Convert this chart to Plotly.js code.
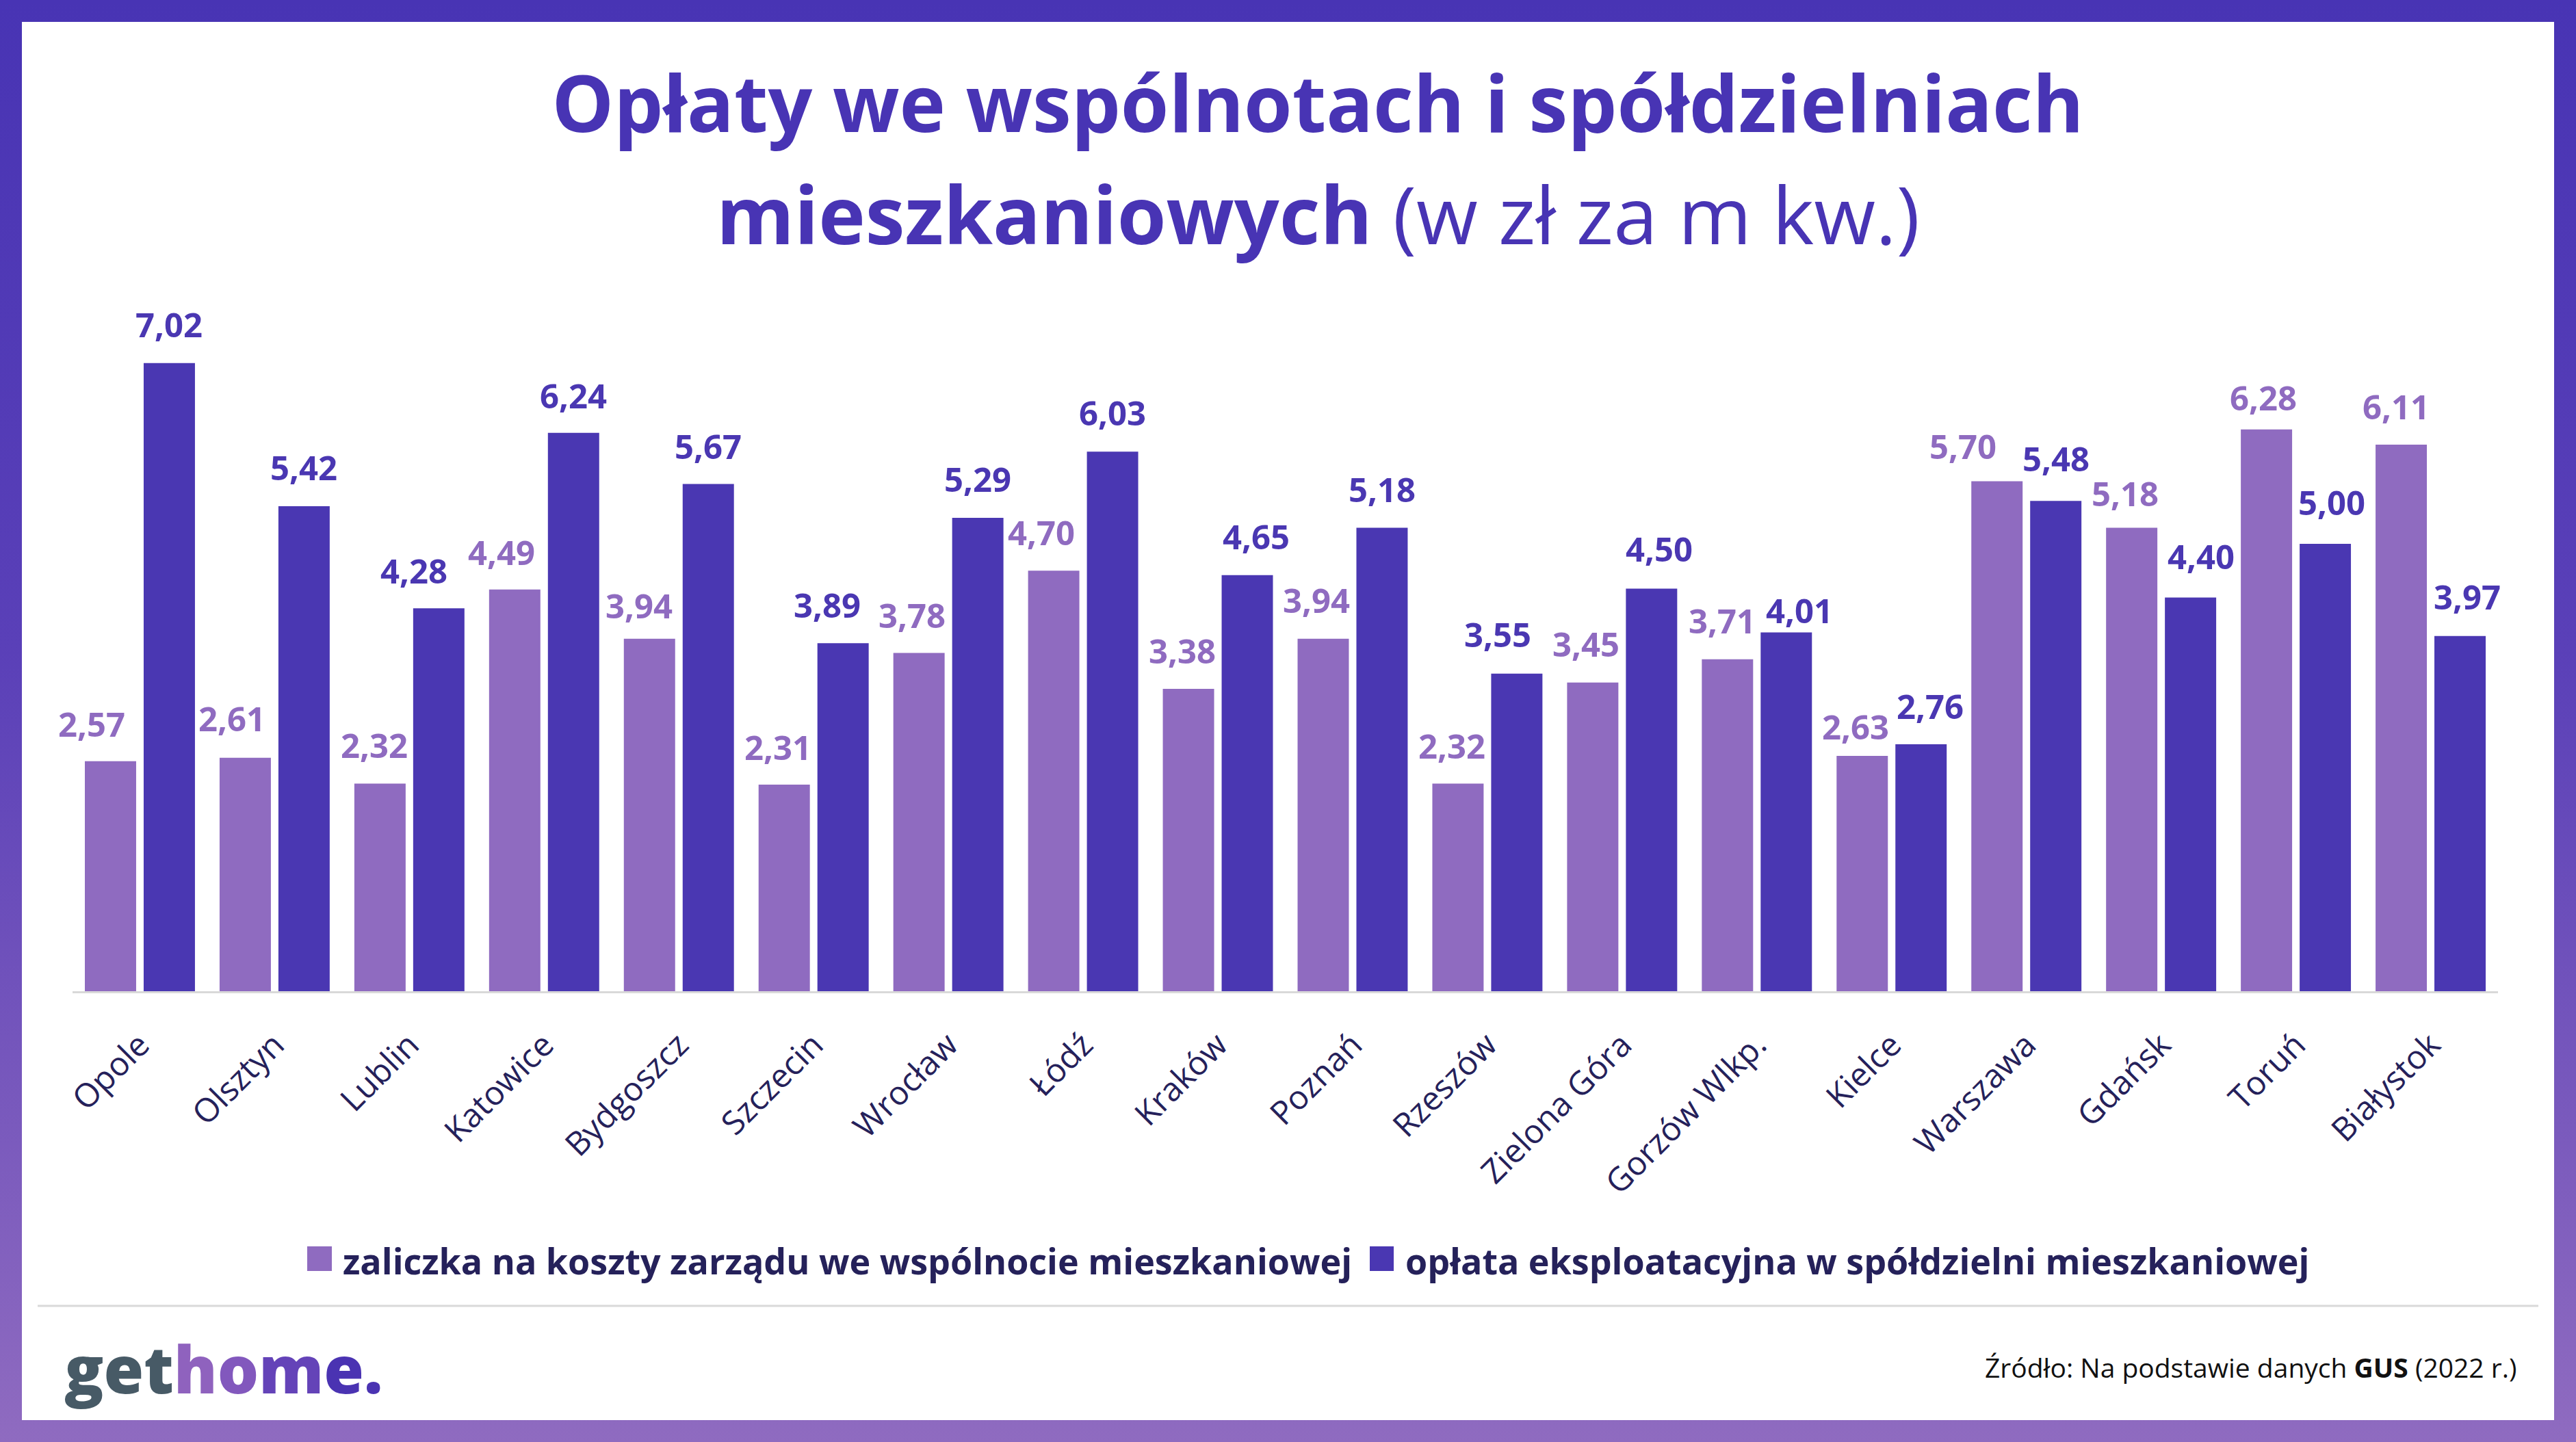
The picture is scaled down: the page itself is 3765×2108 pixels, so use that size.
<!DOCTYPE html>
<html>
<head>
<meta charset="utf-8">
<script src="https://cdn.plot.ly/plotly-3.0.1.min.js"></script>
<style>
  html, body { margin:0; padding:0; }
  body { width:3765px; height:2108px; position:relative; overflow:hidden;
         background: linear-gradient(to bottom, #4834b4 0%, #5a40b8 45%, #8f6bc0 100%); }
  #inner { position:absolute; left:32px; top:32px; right:32px; bottom:32px; background:#ffffff; }
  #chart { position:absolute; left:0; top:0; width:3765px; height:2108px; }
</style>
</head>
<body>
<div id="inner"></div>
<div id="chart"></div>
<script>
// ---- data ----
const cities = ["Opole","Olsztyn","Lublin","Katowice","Bydgoszcz","Szczecin","Wrocław","Łódź","Kraków","Poznań","Rzeszów","Zielona Góra","Gorzów Wlkp.","Kielce","Warszawa","Gdańsk","Toruń","Białystok"];
const zaliczka = [2.57,2.61,2.32,4.49,3.94,2.31,3.78,4.70,3.38,3.94,2.32,3.45,3.71,2.63,5.70,5.18,6.28,6.11];
const oplata   = [7.02,5.42,4.28,6.24,5.67,3.89,5.29,6.03,4.65,5.18,3.55,4.50,4.01,2.76,5.48,4.40,5.00,3.97];
const seriesNames = ["zaliczka na koszty zarządu we wspólnocie mieszkaniowej","opłata eksploatacyjna w spółdzielni mieszkaniowej"];
const titleLine1 = "Opłaty we wspólnotach i spółdzielniach";
const titleLine2Bold = "mieszkaniowych";
const titleLine2Rest = " (w zł za m kw.)";
const sourceText = "Źródło: Na podstawie danych <b>GUS</b> (2022 r.)";

// ---- style ----
const C1 = "#8f6bc0", C2 = "#4a37b2", TITLE = "#4834b4", NAVY = "#25215a";
const FONT = "Open Sans, Noto Sans, sans-serif";
const W = 3765, H = 2108;
const L = 106, R = 3651, T = 455, B = 1449;
const px2x = p => (p - L) / (R - L);
const px2y = p => (B - p) / (B - T);
// hand-placed value label nudges (pixels), as in the original graphic
const labelDx1 = [-27,-19,-8,-19,-15,-9,-10,-18,-9,-10,-9,-10,-8,-10,-50,-10,-5,-8];
const labelDx2 = [0,0,-36,0,0,-23,0,0,13,0,-28,11,19,13,0,15,9,10];
const labelGap1 = [37,40,39,37,31,37,38,38,38,39,38,39,39,25,34,33,29,38];
const labelGap2 = [39,39,37,37,37,38,39,39,39,39,40,40,15,38,44,43,43,40];

const traces = [
  {type:"bar", name:seriesNames[0], x:cities, y:zaliczka, marker:{color:C1}, hoverinfo:"x+y"},
  {type:"bar", name:seriesNames[1], x:cities, y:oplata,   marker:{color:C2}, hoverinfo:"x+y"}
];

const annotations = [];
// value labels
[[zaliczka, C1, -43, labelDx1, labelGap1],[oplata, C2, 43, labelDx2, labelGap2]].forEach(([vals, col, sh, dx, gap]) => {
  vals.forEach((v, i) => {
    annotations.push({x:cities[i], y:v, xref:"x", yref:"y", xshift:sh + dx[i], yshift:22 + (gap[i] - 39),
      yanchor:"bottom", xanchor:"center", showarrow:false,
      text:v.toFixed(2).replace(".", ","),
      font:{family:FONT, size:49, color:col, weight:700}});
  });
});
// title line 2
annotations.push({xref:"paper", yref:"paper", x:px2x(1926), y:px2y(312), xanchor:"center", yanchor:"middle",
  showarrow:false, text:"<b>"+titleLine2Bold+"</b>"+titleLine2Rest,
  font:{family:FONT, size:116, color:TITLE}});
// legend (manual, large squares)
annotations.push({xref:"paper", yref:"paper", x:px2x(499), y:px2y(1842), xanchor:"left", yanchor:"middle",
  showarrow:false, text:"<b>"+seriesNames[0]+"</b>", font:{family:FONT, size:52, color:NAVY}});
annotations.push({xref:"paper", yref:"paper", x:px2x(2052), y:px2y(1842), xanchor:"left", yanchor:"middle",
  showarrow:false, text:"<b>"+seriesNames[1]+"</b>", font:{family:FONT, size:52, color:NAVY}});
// logo
annotations.push({xref:"paper", yref:"paper", x:px2x(92), y:px2y(2000), xanchor:"left", yanchor:"middle",
  showarrow:false,
  text:"<span style='color:#475a66'>get</span><span style='color:#8f62be'>h</span><span style='color:#8258bd'>o</span><span style='color:#6443b8'>m</span><span style='color:#4a33b2'>e.</span>",
  font:{family:FONT, size:95, weight:800}});
// source
annotations.push({xref:"paper", yref:"paper", x:px2x(3680), y:px2y(1998), xanchor:"right", yanchor:"middle",
  showarrow:false, text:sourceText, font:{family:FONT, size:39, color:"#111111"}});

const shapes = [
  {type:"rect", xref:"paper", yref:"paper", x0:px2x(449), x1:px2x(485), y0:px2y(1822), y1:px2y(1858),
   fillcolor:C1, line:{width:0}},
  {type:"rect", xref:"paper", yref:"paper", x0:px2x(2002), x1:px2x(2037), y0:px2y(1822), y1:px2y(1858),
   fillcolor:C2, line:{width:0}},
  {type:"line", xref:"paper", yref:"paper", x0:px2x(55), x1:px2x(3710), y0:px2y(1909), y1:px2y(1909),
   line:{color:"#d9d9d9", width:3}}
];

const layout = {
  width:W, height:H,
  paper_bgcolor:"rgba(0,0,0,0)", plot_bgcolor:"rgba(0,0,0,0)",
  margin:{l:L, r:W-R, t:T, b:H-B, pad:0},
  barmode:"group", bargap:0.127, bargroupgap:0.128,
  showlegend:false,
  separators:", ",
  title:{text:"<b>"+titleLine1+"</b>", x:1926/W, xanchor:"center", xref:"container",
         y:1-153/H, yanchor:"middle", yref:"container",
         font:{family:FONT, size:114, color:TITLE}},
  xaxis:{type:"category", range:[-0.5, cities.length-0.5], showline:true, linecolor:"#d9d9d9", linewidth:3,
         showgrid:false, zeroline:false, ticks:"", tickangle:-45, ticklabelstandoff:28,
         tickfont:{family:FONT, size:48, color:NAVY}, fixedrange:true},
  yaxis:{range:[0, 7.6], visible:false, showgrid:false, zeroline:false, fixedrange:true},
  annotations:annotations,
  shapes:shapes,
  font:{family:FONT}
};

Plotly.newPlot("chart", traces, layout, {displayModeBar:false, staticPlot:true});
</script>
</body>
</html>
